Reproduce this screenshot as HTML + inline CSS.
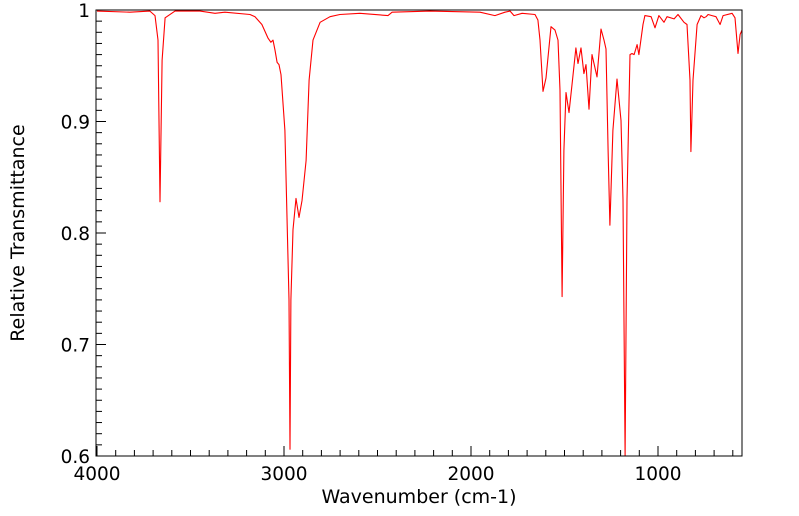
<!DOCTYPE html>
<html><head><meta charset="utf-8"><style>
body{margin:0;background:#fff;}
svg{display:block;font-family:"DejaVu Sans","Liberation Sans",sans-serif;}
</style></head><body>
<svg id="chart" width="799" height="516">
<g id="axes"></g>
<polyline id="spec" fill="none" stroke="#ff0000" stroke-width="1.1" stroke-linejoin="round"></polyline>
<rect x="96" y="10" width="646" height="446" fill="none" stroke="#000" stroke-width="1"></rect>
<text x="419" y="503" text-anchor="middle" font-size="19">Wavenumber (cm-1)</text>
<text transform="translate(24,233) rotate(-90)" text-anchor="middle" font-size="19">Relative Transmittance</text>
</svg>
<script>
const wavenumbers=[4000,3824,3717,3690,3674,3663,3652,3636,3583,3449,3369,3316,3182,3155,3118,3086,3070,3059,3048,3037,3027,3016,2995,2973,2968,2963,2952,2936,2920,2904,2882,2866,2845,2807,2754,2701,2594,2444,2422,2219,1952,1872,1818,1791,1770,1727,1658,1642,1631,1615,1599,1572,1551,1535,1524,1513,1503,1492,1476,1460,1439,1428,1412,1396,1385,1369,1353,1326,1305,1289,1278,1267,1257,1241,1219,1198,1187,1176,1166,1150,1139,1128,1112,1102,1080,1070,1037,1016,995,968,952,914,893,861,845,829,824,813,791,770,754,743,732,711,690,668,652,604,588,572,561,551];
const transmittance=[0.999,0.998,0.999,0.995,0.973,0.828,0.955,0.993,0.999,0.999,0.997,0.998,0.996,0.994,0.987,0.975,0.971,0.973,0.964,0.953,0.951,0.942,0.892,0.74,0.606,0.74,0.803,0.831,0.814,0.829,0.865,0.937,0.973,0.989,0.994,0.996,0.997,0.995,0.998,0.999,0.998,0.995,0.998,0.999,0.995,0.997,0.996,0.991,0.973,0.927,0.939,0.985,0.982,0.973,0.928,0.743,0.874,0.926,0.908,0.933,0.966,0.952,0.966,0.943,0.951,0.911,0.96,0.94,0.983,0.973,0.965,0.874,0.807,0.892,0.938,0.901,0.83,0.6,0.83,0.96,0.961,0.96,0.969,0.96,0.987,0.995,0.994,0.984,0.995,0.989,0.994,0.992,0.996,0.989,0.987,0.937,0.873,0.937,0.987,0.995,0.993,0.994,0.996,0.995,0.994,0.987,0.995,0.997,0.993,0.961,0.978,0.982];
const xTicks=[4000,3000,2000,1000];
const yTicks=[0.6,0.7,0.8,0.9,1];
const yTickLabels=["0.6","0.7","0.8","0.9","1"];
const X=w=>97+(4000-w)*0.187;
const Y=t=>10+(1-t)*1115;
const ns="http://www.w3.org/2000/svg";
const axes=document.getElementById('axes');
function ln(x1,y1,x2,y2){const l=document.createElementNS(ns,'line');l.setAttribute('x1',x1);l.setAttribute('y1',y1);l.setAttribute('x2',x2);l.setAttribute('y2',y2);l.setAttribute('stroke','#000');axes.appendChild(l);return l;}
for(let w=4000;w>=600;w-=100){const x=X(w);const major=w%1000===0;
const l=ln(x,456,x,456-(major?10:6));

}
xTicks.forEach(w=>{const t=document.createElementNS(ns,'text');t.setAttribute('x',X(w));t.setAttribute('y',480);t.setAttribute('text-anchor','middle');t.setAttribute('font-size','18.5');t.textContent=String(w);


axes.appendChild(t);});
for(let i=60;i<=100;i++){const y=Y(i/100);const major=i%10===0;
const l=ln(96,y,96+(major?10:6),y);

}
yTicks.forEach((v,i)=>{const t=document.createElementNS(ns,'text');t.setAttribute('x',90);t.setAttribute('y',Y(v)+7);t.setAttribute('text-anchor','end');t.setAttribute('font-size','18.5');t.textContent=yTickLabels[i];


axes.appendChild(t);});
document.getElementById('spec').setAttribute('points',wavenumbers.map((w,i)=>X(w).toFixed(1)+','+Y(transmittance[i]).toFixed(1)).join(' '));
</script>
</body></html>
